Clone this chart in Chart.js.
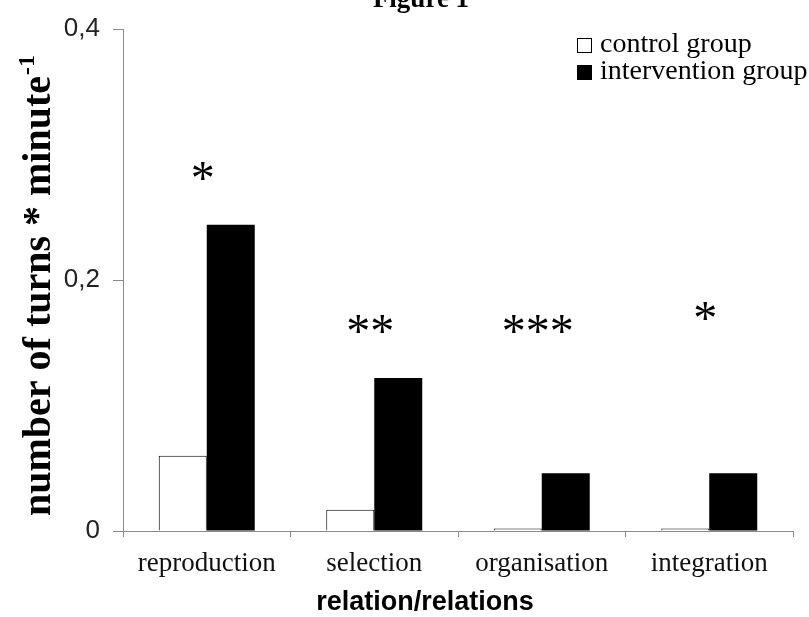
<!DOCTYPE html>
<html>
<head>
<meta charset="utf-8">
<script src="https://cdn.jsdelivr.net/npm/chart.js@4.4.1/dist/chart.umd.min.js"></script>
<style>
  html, body { margin: 0; padding: 0; background: #ffffff; }
  #wrap { width: 809px; height: 617px; position: relative; }
  canvas { display: block; }
</style>
</head>
<body>
<div id="wrap"><canvas id="c" width="809" height="617"></canvas></div>
<script>
// ---- data ----
const categories = ['reproduction', 'selection', 'organisation', 'integration'];
const controlGroup = [0.06, 0.017, 0.002, 0.002];
const interventionGroup = [0.244, 0.122, 0.046, 0.046];
const seriesLabels = ['control group', 'intervention group'];
const yTickValues = [0, 0.2, 0.4];
const yTickLabels = ['0', '0,2', '0,4'];
const significance = ['*', '**', '***', '*'];
const significanceLevel = [0.287, 0.165, 0.165, 0.175];
const chartTitle = 'Figure 1';
const yTitle = 'number of turns * minute';
const yTitleSup = '-1';
const xTitle = 'relation/relations';

const serif = '"Liberation Serif", "Times New Roman", serif';
const sans = '"Liberation Sans", Arial, sans-serif';

const overlay = {
  id: 'overlay',
  afterDraw(chart) {
    const ctx = chart.ctx;
    const ca = chart.chartArea;
    const x = chart.scales.x, y = chart.scales.y;
    ctx.save();
    ctx.fillStyle = '#000';

    // clipped figure title at very top
    ctx.font = 'bold 27px ' + serif;
    ctx.textAlign = 'center';
    ctx.textBaseline = 'alphabetic';
    ctx.fillText(chartTitle, 421, 7);

    // significance stars
    ctx.font = '48px ' + serif;
    ctx.textAlign = 'center';
    significance.forEach((s, i) => {
      const m = ctx.measureText(s);
      const cx = x.getPixelForValue(i) - 4;
      const cy = y.getPixelForValue(significanceLevel[i]);
      const base = cy + (m.actualBoundingBoxAscent - m.actualBoundingBoxDescent) / 2;
      ctx.fillText(s, cx, base);
    });

    // legend
    const ds = chart.data.datasets;
    ctx.font = '28px ' + serif;
    ctx.textAlign = 'left';
    ctx.textBaseline = 'middle';
    ds.forEach((d, i) => {
      const ry = 45 + i * 27;
      ctx.fillStyle = d.backgroundColor;
      ctx.fillRect(577, ry - 7, 15, 15);
      ctx.strokeStyle = '#000';
      ctx.lineWidth = 1;
      ctx.strokeRect(577.5, ry - 6.5, 14, 14);
      ctx.fillStyle = '#000';
      ctx.fillText(d.label, 600, ry);
    });

    // y axis title (rotated, with superscript)
    ctx.translate(40, (ca.top + ca.bottom) / 2 + 6);
    ctx.rotate(-Math.PI / 2);
    ctx.font = 'bold 40px ' + serif;
    const w1 = ctx.measureText(yTitle).width;
    ctx.font = 'bold 24px ' + serif;
    const w2 = ctx.measureText(yTitleSup).width;
    const start = -(w1 + w2) / 2;
    ctx.textAlign = 'left';
    ctx.textBaseline = 'middle';
    ctx.font = 'bold 40px ' + serif;
    ctx.fillText(yTitle, start, 0);
    ctx.font = 'bold 24px ' + serif;
    ctx.fillText(yTitleSup, start + w1 + 1, -12);
    ctx.restore();

    // x axis title
    ctx.save();
    ctx.font = 'bold 27px ' + sans;
    ctx.fillStyle = '#000';
    ctx.textAlign = 'center';
    ctx.textBaseline = 'middle';
    ctx.fillText(xTitle, 425, 603);
    ctx.restore();
  }
};

new Chart(document.getElementById('c'), {
  type: 'bar',
  data: {
    labels: categories,
    datasets: [
      { label: seriesLabels[0], data: controlGroup, backgroundColor: '#ffffff', borderColor: '#000000', borderWidth: 1 },
      { label: seriesLabels[1], data: interventionGroup, backgroundColor: '#000000', borderColor: '#000000', borderWidth: 0 }
    ]
  },
  options: {
    responsive: false,
    animation: false,
    devicePixelRatio: 1,
    layout: { padding: { top: 29, right: 16, bottom: 0, left: 0 } },
    plugins: { legend: { display: false }, title: { display: false }, tooltip: { enabled: false } },
    datasets: { bar: { categoryPercentage: 0.573, barPercentage: 1.0 } },
    scales: {
      x: {
        grid: { offset: true, drawOnChartArea: false, drawTicks: true, tickLength: 6, color: '#8a8a8a', lineWidth: 1 },
        border: { display: true, color: '#8a8a8a', width: 1 },
        ticks: { font: { family: serif, size: 27 }, color: '#111', padding: 11, maxRotation: 0 },
        afterFit(scale) { scale.height = 86; }
      },
      y: {
        min: 0, max: 0.4,
        afterBuildTicks(scale) { scale.ticks = yTickValues.map(v => ({ value: v })); },
        grid: { drawOnChartArea: false, drawTicks: true, tickLength: 10, color: '#8a8a8a', lineWidth: 1 },
        border: { display: true, color: '#8a8a8a', width: 1 },
        ticks: {
          font: { family: sans, size: 26 }, color: '#222', padding: 13,
          callback(v) { const i = yTickValues.findIndex(t => Math.abs(t - v) < 1e-9); return i >= 0 ? yTickLabels[i] : ''; }
        },
        afterFit(scale) { scale.width = 123; }
      }
    }
  },
  plugins: [overlay]
});
</script>
</body>
</html>
